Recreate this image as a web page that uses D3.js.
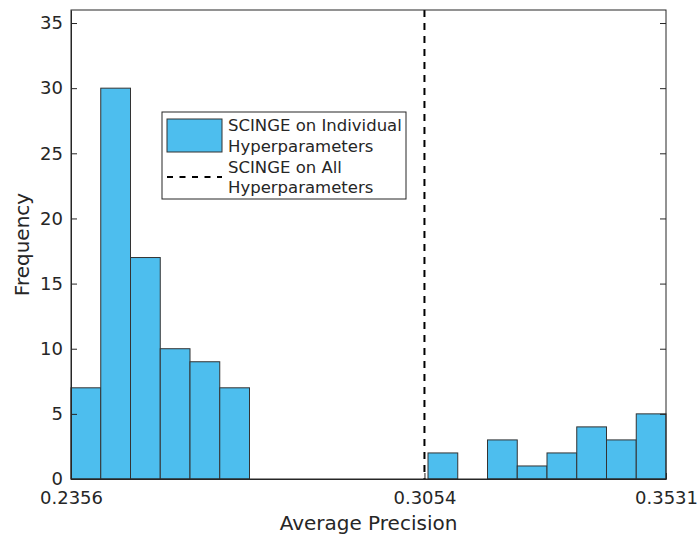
<!DOCTYPE html>
<html>
<head>
<meta charset="utf-8">
<script src="https://cdn.jsdelivr.net/npm/d3@7"></script>
<style>
  body { margin: 0; background: #fff; }
  svg text { font-family: "DejaVu Sans", sans-serif; fill: #262626; }
</style>
</head>
<body>
<svg id="viz"></svg>
<script>
// histogram bins (20 equal bins between the min and max)
var binStart = 0.2356;
var binEnd = 0.3531;
var counts = [7, 30, 17, 10, 9, 7, 0, 0, 0, 0, 0, 0, 2, 0, 3, 1, 2, 4, 3, 5];
var allHyper = 0.3054;
var xTicks = [0.2356, 0.3054, 0.3531];
var yTicks = [0, 5, 10, 15, 20, 25, 30, 35];
var legendLabels = [['SCINGE on Individual', 'Hyperparameters'], ['SCINGE on All', 'Hyperparameters']];

var width = 700, height = 535;
var margin = { top: 10, right: 34, bottom: 56, left: 71 };
var w = width - margin.left - margin.right;
var h = height - margin.top - margin.bottom;

var svg = d3.select('#viz').attr('width', width).attr('height', height);
var g = svg.append('g').attr('transform', 'translate(' + margin.left + ',' + margin.top + ')');

var x = d3.scaleLinear().domain([binStart, binEnd]).range([0, w]);
var y = d3.scaleLinear().domain([0, 36]).range([h, 0]);
var binW = (binEnd - binStart) / counts.length;

var bins = counts.map(function (c, i) {
  return { x0: binStart + i * binW, x1: binStart + (i + 1) * binW, n: c };
});

g.selectAll('rect.bar')
  .data(bins)
  .join('rect')
  .attr('class', 'bar')
  .attr('x', (d) => x(d.x0))
  .attr('y', (d) => y(d.n))
  .attr('width', (d) => x(d.x1) - x(d.x0))
  .attr('height', (d) => y(0) - y(d.n))
  .attr('fill', '#4DBEEE')
  .attr('stroke', '#333')
  .style('stroke-width', '1px');

// dashed line for all hyperparameters
g.append('line')
  .attr('x1', x(allHyper))
  .attr('x2', x(allHyper))
  .attr('y1', 0)
  .attr('y2', h)
  .attr('stroke', '#000')
  .attr('stroke-dasharray', '7,6')
  .style('stroke-width', '2px');

// axes (MATLAB box style, ticks inward)
var xAxis = d3.axisBottom(x).tickValues(xTicks).tickFormat(d3.format('.4f')).tickSizeInner(-6).tickSizeOuter(0).tickPadding(12);
var yAxis = d3.axisLeft(y).tickValues(yTicks).tickSizeInner(-6).tickSizeOuter(0).tickPadding(8);

var gx = g.append('g').attr('transform', 'translate(0,' + h + ')').call(xAxis);
var gy = g.append('g').call(yAxis);
var gyr = g.append('g').attr('transform', 'translate(' + w + ',0)')
  .call(d3.axisRight(y).tickValues(yTicks).tickSizeInner(-6).tickSizeOuter(0).tickFormat(''));

[gx, gy, gyr].forEach(function (a) {
  a.selectAll('.domain').attr('stroke', '#262626');
  a.selectAll('.tick line').attr('stroke', '#262626');
  a.selectAll('.tick text').style('font-size', '18px').attr('fill', '#262626');
});
gyr.select('.domain').remove();

// box
g.append('rect')
  .attr('x', 0).attr('y', 0).attr('width', w).attr('height', h)
  .attr('fill', 'none').attr('stroke', '#262626').style('stroke-width', '1px');

// axis labels
svg.append('text')
  .attr('x', margin.left + w / 2)
  .attr('y', 530)
  .attr('text-anchor', 'middle')
  .style('font-size', '20px')
  .text('Average Precision');

svg.append('text')
  .attr('transform', 'translate(29,' + (margin.top + h / 2) + ') rotate(-90)')
  .attr('text-anchor', 'middle')
  .style('font-size', '20px')
  .text('Frequency');

// legend
var lg = svg.append('g');
lg.append('rect')
  .attr('x', 162).attr('y', 112).attr('width', 244).attr('height', 87)
  .attr('fill', '#fff').attr('stroke', '#262626').style('stroke-width', '1px');
lg.append('rect')
  .attr('x', 167).attr('y', 119).attr('width', 55).attr('height', 33)
  .attr('fill', '#4DBEEE').attr('stroke', '#333');
lg.append('line')
  .attr('x1', 167).attr('x2', 222).attr('y1', 177).attr('y2', 177)
  .attr('stroke', '#000').attr('stroke-dasharray', '6,6.5').style('stroke-width', '2px');

var lineY = [131, 152, 173, 193];
var flat = legendLabels[0].concat(legendLabels[1]);
lg.selectAll('text.leg')
  .data(flat)
  .join('text')
  .attr('class', 'leg')
  .attr('x', 228)
  .attr('y', (d, i) => lineY[i])
  .style('font-size', '16.5px')
  .text((d) => d);
</script>
</body>
</html>
